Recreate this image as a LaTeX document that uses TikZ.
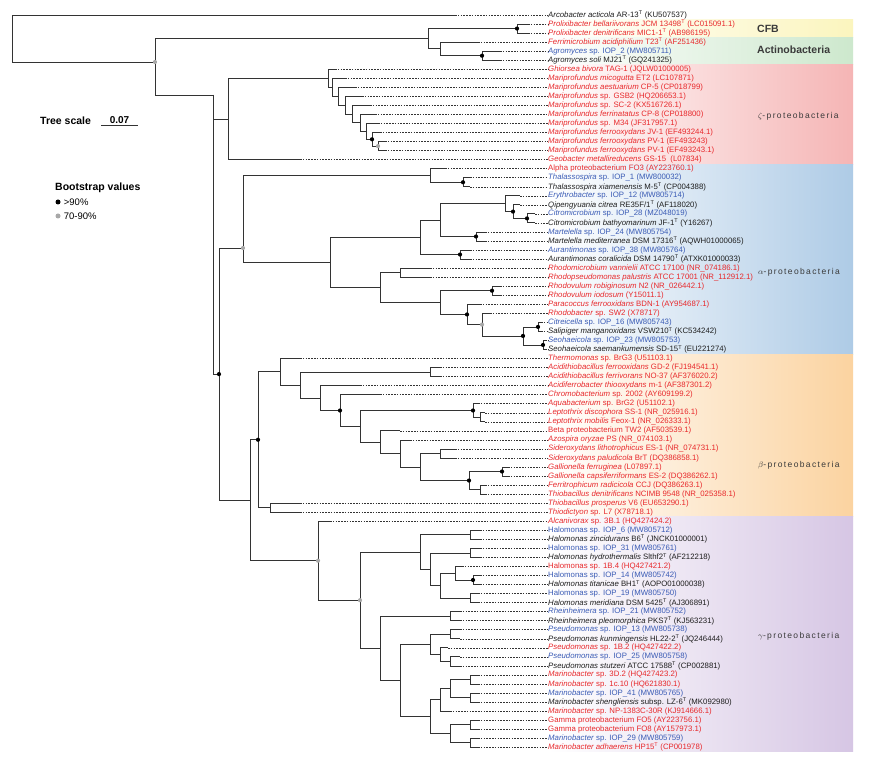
\documentclass[tikz,border=0pt]{standalone}
\usepackage{fontspec}
\setmainfont{Liberation Sans}
\usetikzlibrary{calc}
\definecolor{TaxRed}{HTML}{E8282B}
\definecolor{TaxBlue}{HTML}{3A5BB5}
\definecolor{TaxBlack}{HTML}{1E1E1E}
\definecolor{TreeGray}{HTML}{333333}
\definecolor{BootGray}{HTML}{A8A8A8}
\definecolor{GroupText}{HTML}{3A3A3A}
\definecolor{BandCFB}{HTML}{FBF5BE}
\definecolor{BandActino}{HTML}{CDE8CD}
\definecolor{BandZeta}{HTML}{F5B5B5}
\definecolor{BandAlpha}{HTML}{AECBE6}
\definecolor{BandBeta}{HTML}{FBD3A0}
\definecolor{BandGamma}{HTML}{D6C6E4}
\newcommand{\TS}{\textsuperscript{T}}
% leaf: index, y, tip x, colour, text
\newcommand{\taxon}[5]{%
  \coordinate (T#1) at (#3,#2);
  \node[taxlabel, text=#4] (L#1) at (548,#2) {#5};
  \draw[taxdash] (T#1) -- (L#1.west);}
% internal node: name, x, first child, last child
\newcommand{\joinclade}[4]{%
  \coordinate (#1) at ($(#3)!.5!(#4)$);
  \coordinate (#1) at (#2,0 |- #1);
  \draw[branch] (#1) |- (#3);
  \draw[branch] (#1) |- (#4);}
% internal node placed at a given height: name, x, y, first child, last child
\newcommand{\joincladeat}[5]{%
  \coordinate (#1) at (#2,#3);
  \draw[branch] (#1) |- (#4);
  \draw[branch] (#1) |- (#5);}

\begin{document}
\begin{tikzpicture}[x=1pt,y=-1pt,
  branch/.style={draw=TreeGray, line width=0.8pt},
  taxdash/.style={draw=TreeGray, dash pattern=on 1.6pt off 1.2pt, line width=0.5pt},
  taxlabel/.style={anchor=west, inner sep=0pt, font=\fontsize{7.8}{9}\selectfont},
  bsHigh/.style={circle, fill=black, inner sep=0pt, minimum size=4.2pt},
  bsMid/.style={circle, fill=BootGray, inner sep=0pt, minimum size=4.2pt},
  groupname/.style={anchor=west, inner sep=0pt, text=GroupText, font=\fontsize{10.5}{12}\selectfont\bfseries},
  proteoname/.style={anchor=west, inner sep=0pt, text=GroupText, font=\fontsize{8.5}{10}\selectfont\addfontfeature{LetterSpace=16}},
  legendtext/.style={anchor=west, inner sep=0pt, font=\fontsize{9.5}{11}\selectfont}]
\useasboundingbox (0,0) rectangle (870,759);
\fill[white] (0,0) rectangle (870,759);

% taxon bands
\fill[left color=white, right color=BandCFB] (548,19.5) rectangle (853,37.6);
\fill[left color=white, right color=BandActino] (548,37.6) rectangle (853,64.7);
\fill[left color=white, right color=BandZeta] (548,64.7) rectangle (853,164.2);
\fill[left color=white, right color=BandAlpha] (548,164.2) rectangle (853,354);
\fill[left color=white, right color=BandBeta] (548,354) rectangle (853,516.7);
\fill[left color=white, right color=BandGamma] (548,516.7) rectangle (853,751.8);

\node[groupname] (CfbName) at (757,29) {CFB};
\node[groupname] (ActName) at (757,50) {Actinobacteria};
\node[proteoname] (ZetaName) at (758,116) {$\zeta$-proteobacteria};
\node[proteoname] (AlphaName) at (758,272) {$\alpha$-proteobacteria};
\node[proteoname] (BetaName) at (758,465) {$\beta$-proteobacteria};
\node[proteoname] (GammaName) at (758,636) {$\gamma$-proteobacteria};

% leaves
\taxon{1}{15.0}{455}{TaxBlack}{\textit{Arcobacter acticola} AR-13\TS{} (KU507537)}
\taxon{2}{24.0}{528}{TaxRed}{\textit{Prolixibacter bellariivorans} JCM 13498\TS{} (LC015091.1)}
\taxon{3}{33.1}{528}{TaxRed}{\textit{Prolixibacter denitrificans} MIC1-1\TS{} (AB986195)}
\taxon{4}{42.1}{478}{TaxRed}{\textit{Ferrimicrobium acidiphilium} T23\TS{} (AF251436)}
\taxon{5}{51.2}{500}{TaxBlue}{\textit{Agromyces} sp. IOP\_2 (MW805711)}
\taxon{6}{60.2}{500}{TaxBlack}{\textit{Agromyces soli} MJ21\TS{} (GQ241325)}
\taxon{7}{69.2}{335}{TaxRed}{\textit{Ghiorsea bivora} TAG-1 (JQLW01000005)}
\taxon{8}{78.3}{345}{TaxRed}{\textit{Mariprofundus micogutta} ET2 (LC107871)}
\taxon{9}{87.3}{355}{TaxRed}{\textit{Mariprofundus aestuarium} CP-5 (CP018799)}
\taxon{10}{96.4}{362}{TaxRed}{\textit{Mariprofundus} sp. GSB2 (HQ206653.1)}
\taxon{11}{105.4}{370}{TaxRed}{\textit{Mariprofundus} sp. SC-2 (KX516726.1)}
\taxon{12}{114.4}{375}{TaxRed}{\textit{Mariprofundus ferrinatatus} CP-8 (CP018800)}
\taxon{13}{123.5}{378}{TaxRed}{\textit{Mariprofundus} sp. M34 (JF317957.1)}
\taxon{14}{132.5}{380}{TaxRed}{\textit{Mariprofundus ferrooxydans} JV-1 (EF493244.1)}
\taxon{15}{141.6}{385}{TaxRed}{\textit{Mariprofundus ferrooxydans} PV-1 (EF493243)}
\taxon{16}{150.6}{385}{TaxRed}{\textit{Mariprofundus ferrooxydans} PV-1 (EF493243.1)}
\taxon{17}{159.6}{300}{TaxRed}{\textit{Geobacter metallireducens} GS-15\ \ (L07834)}
\taxon{18}{168.7}{445}{TaxRed}{Alpha proteobacterium FO3 (AY223760.1)}
\taxon{19}{177.7}{470}{TaxBlue}{\textit{Thalassospira} sp. IOP\_1 (MW800032)}
\taxon{20}{186.8}{470}{TaxBlack}{\textit{Thalassospira xiamenensis} M-5\TS{} (CP004388)}
\taxon{21}{195.8}{520}{TaxBlue}{\textit{Erythrobacter} sp. IOP\_12 (MW805714)}
\taxon{22}{204.8}{520}{TaxBlack}{\textit{Qipengyuania citrea} RE35F/1\TS{} (AF118020)}
\taxon{23}{213.9}{535}{TaxBlue}{\textit{Citromicrobium} sp. IOP\_28 (MZ048019)}
\taxon{24}{222.9}{535}{TaxBlack}{\textit{Citromicrobium bathyomarinum} JF-1\TS{} (Y16267)}
\taxon{25}{232.0}{485}{TaxBlue}{\textit{Martelella} sp. IOP\_24 (MW805754)}
\taxon{26}{241.0}{485}{TaxBlack}{\textit{Martelella mediterranea} DSM 17316\TS{} (AQWH01000065)}
\taxon{27}{250.0}{470}{TaxBlue}{\textit{Aurantimonas} sp. IOP\_38 (MW805764)}
\taxon{28}{259.1}{470}{TaxBlack}{\textit{Aurantimonas coralicida} DSM 14790\TS{} (ATXK01000033)}
\taxon{29}{268.1}{430}{TaxRed}{\textit{Rhodomicrobium vannielii} ATCC 17100 (NR\_074186.1)}
\taxon{30}{277.2}{430}{TaxRed}{\textit{Rhodopseudomonas palustris} ATCC 17001 (NR\_112912.1)}
\taxon{31}{286.2}{500}{TaxRed}{\textit{Rhodovulum robiginosum} N2 (NR\_026442.1)}
\taxon{32}{295.2}{500}{TaxRed}{\textit{Rhodovulum iodosum} (Y15011.1)}
\taxon{33}{304.3}{480}{TaxRed}{\textit{Paracoccus ferrooxidans} BDN-1 (AY954687.1)}
\taxon{34}{313.3}{490}{TaxRed}{\textit{Rhodobacter} sp. SW2 (X78717)}
\taxon{35}{322.4}{541}{TaxBlue}{\textit{Citreicella} sp. IOP\_16 (MW805743)}
\taxon{36}{331.4}{541}{TaxBlack}{\textit{Salipiger manganoxidans} VSW210\TS{} (KC534242)}
\taxon{37}{340.4}{545}{TaxBlue}{\textit{Seohaeicola} sp. IOP\_23 (MW805753)}
\taxon{38}{349.5}{545}{TaxBlack}{\textit{Seohaeicola saemankumensis} SD-15\TS{} (EU221274)}
\taxon{39}{358.5}{300}{TaxRed}{\textit{Thermomonas} sp. BrG3 (U51103.1)}
\taxon{40}{367.6}{440}{TaxRed}{\textit{Acidithiobacillus ferrooxidans} GD-2 (FJ194541.1)}
\taxon{41}{376.6}{440}{TaxRed}{\textit{Acidithiobacillus ferrivorans} NO-37 (AF376020.2)}
\taxon{42}{385.6}{360}{TaxRed}{\textit{Acidiferrobacter thiooxydans} m-1 (AF387301.2)}
\taxon{43}{394.7}{380}{TaxRed}{\textit{Chromobacterium} sp. 2002 (AY609199.2)}
\taxon{44}{403.7}{478}{TaxRed}{\textit{Aquabacterium} sp. BrG2 (U51102.1)}
\taxon{45}{412.8}{485}{TaxRed}{\textit{Leptothrix discophora} SS-1 (NR\_025916.1)}
\taxon{46}{421.8}{485}{TaxRed}{\textit{Leptothrix mobilis} Feox-1 (NR\_026333.1)}
\taxon{47}{430.8}{400}{TaxRed}{Beta proteobacterium TW2 (AF503539.1)}
\taxon{48}{439.9}{410}{TaxRed}{\textit{Azospira oryzae} PS (NR\_074103.1)}
\taxon{49}{448.9}{455}{TaxRed}{\textit{Sideroxydans lithotrophicus} ES-1 (NR\_074731.1)}
\taxon{50}{458.0}{455}{TaxRed}{\textit{Sideroxydans paludicola} BrT (DQ386858.1)}
\taxon{51}{467.0}{508}{TaxRed}{\textit{Gallionella ferruginea} (L07897.1)}
\taxon{52}{476.0}{508}{TaxRed}{\textit{Gallionella capsiferriformans} ES-2 (DQ386262.1)}
\taxon{53}{485.1}{485}{TaxRed}{\textit{Ferritrophicum radicicola} CCJ (DQ386263.1)}
\taxon{54}{494.1}{485}{TaxRed}{\textit{Thiobacillus denitrificans} NCIMB 9548 (NR\_025358.1)}
\taxon{55}{503.2}{300}{TaxRed}{\textit{Thiobacillus prosperus} V6 (EU653290.1)}
\taxon{56}{512.2}{300}{TaxRed}{\textit{Thiodictyon} sp. L7 (X78718.1)}
\taxon{57}{521.2}{330}{TaxRed}{\textit{Alcanivorax} sp. 3B.1 (HQ427424.2)}
\taxon{58}{530.3}{480}{TaxBlue}{Halomonas sp. IOP\_6 (MW805712)}
\taxon{59}{539.3}{480}{TaxBlack}{\textit{Halomonas zincidurans} B6\TS{} (JNCK01000001)}
\taxon{60}{548.4}{480}{TaxBlue}{Halomonas sp. IOP\_31 (MW805761)}
\taxon{61}{557.4}{480}{TaxBlack}{\textit{Halomonas hydrothermalis} Slthf2\TS{} (AF212218)}
\taxon{62}{566.4}{462}{TaxRed}{Halomonas sp. 1B.4 (HQ427421.2)}
\taxon{63}{575.5}{480}{TaxBlue}{Halomonas sp. IOP\_14 (MW805742)}
\taxon{64}{584.5}{480}{TaxBlack}{\textit{Halomonas titanicae} BH1\TS{} (AOPO01000038)}
\taxon{65}{593.6}{478}{TaxBlue}{Halomonas sp. IOP\_19 (MW805750)}
\taxon{66}{602.6}{478}{TaxBlack}{\textit{Halomonas meridiana} DSM 5425\TS{} (AJ306891)}
\taxon{67}{611.6}{460}{TaxBlue}{\textit{Rheinheimera} sp. IOP\_21 (MW805752)}
\taxon{68}{620.7}{460}{TaxBlack}{\textit{Rheinheimera pleomorphica} PKS7\TS{} (KJ563231)}
\taxon{69}{629.7}{460}{TaxBlue}{\textit{Pseudomonas} sp. IOP\_13 (MW805738)}
\taxon{70}{638.8}{460}{TaxBlack}{\textit{Pseudomonas kunmingensis} HL22-2\TS{} (JQ246444)}
\taxon{71}{647.8}{448}{TaxRed}{\textit{Pseudomonas} sp. 1B.2 (HQ427422.2)}
\taxon{72}{656.8}{460}{TaxBlue}{\textit{Pseudomonas} sp. IOP\_25 (MW805758)}
\taxon{73}{665.9}{460}{TaxBlack}{\textit{Pseudomonas stutzeri} ATCC 17588\TS{} (CP002881)}
\taxon{74}{674.9}{478}{TaxRed}{\textit{Marinobacter} sp. 3D.2 (HQ427423.2)}
\taxon{75}{684.0}{478}{TaxRed}{\textit{Marinobacter} sp. 1c.10 (HQ621830.1)}
\taxon{76}{693.0}{478}{TaxBlue}{\textit{Marinobacter} sp. IOP\_41 (MW805765)}
\taxon{77}{702.0}{478}{TaxBlack}{\textit{Marinobacter shengliensis} subsp. LZ-6\TS{} (MK092980)}
\taxon{78}{711.1}{450}{TaxRed}{\textit{Marinobacter} sp. NP-1383C-30R (KJ914666.1)}
\taxon{79}{720.1}{478}{TaxRed}{Gamma proteobacterium FO5 (AY223756.1)}
\taxon{80}{729.2}{478}{TaxRed}{Gamma proteobacterium FO8 (AY157973.1)}
\taxon{81}{738.2}{478}{TaxBlue}{\textit{Marinobacter} sp. IOP\_29 (MW805759)}
\taxon{82}{747.2}{478}{TaxRed}{\textit{Marinobacter adhaerens} HP15\TS{} (CP001978)}

% outgroups
\joinclade{CFB}{517}{T2}{T3}
\joinclade{Agro}{482}{T5}{T6}
\joinclade{Actino}{440}{T4}{Agro}
\joinclade{CfbAct}{428}{CFB}{Actino}
% zeta
\joinclade{Mp8}{378}{T15}{T16}
\joinclade{Mp7}{372}{T14}{Mp8}
\joinclade{Mp6}{366}{T13}{Mp7}
\joinclade{Mp5}{360}{T12}{Mp6}
\joinclade{Mp4}{352}{T11}{Mp5}
\joinclade{Mp3}{345}{T10}{Mp4}
\joinclade{Mp2}{338}{T9}{Mp3}
\joinclade{Mp1}{332}{T8}{Mp2}
\joinclade{Zeta}{328}{T7}{Mp1}
\joinclade{ZetaGeo}{228}{Zeta}{T17}
% alpha
\joinclade{Thal}{463}{T19}{T20}
\joinclade{AlphaFO}{430}{T18}{Thal}
\joinclade{Citro}{527}{T23}{T24}
\joinclade{Qipe}{513}{T22}{Citro}
\joinclade{Eryth}{505}{T21}{Qipe}
\joinclade{Mart}{476}{T25}{T26}
\joinclade{Aur}{460}{T27}{T28}
\joinclade{EryMart}{440}{Eryth}{Mart}
\joinclade{EryAur}{420}{EryMart}{Aur}
\joinclade{Rhpal}{400}{T29}{T30}
\joinclade{Rhvul}{492}{T31}{T32}
\joinclade{Citre}{538}{T35}{T36}
\joinclade{Seoh}{543}{T37}{T38}
\joinclade{Roseo}{523}{Citre}{Seoh}
\joinclade{Rbac}{482}{T34}{Roseo}
\joinclade{Para}{467}{T33}{Rbac}
\joinclade{RhvPara}{440}{Rhvul}{Para}
\joinclade{Rhizo}{380}{Rhpal}{RhvPara}
\joinclade{AlphaCore}{330}{EryAur}{Rhizo}
\joincladeat{Alpha}{243}{248}{AlphaFO}{AlphaCore}
% beta
\joinclade{Acid}{430}{T40}{T41}
\joinclade{Lept}{480}{T45}{T46}
\joinclade{AquaL}{473}{T44}{Lept}
\joinclade{Sider}{440}{T49}{T50}
\joinclade{Gall}{502}{T51}{T52}
\joinclade{Ferri}{480}{T53}{T54}
\joinclade{GallF}{469}{Gall}{Ferri}
\joinclade{SidG}{420}{Sider}{GallF}
\joinclade{Azo}{400}{T48}{SidG}
\joinclade{TWtwo}{380}{T47}{Azo}
\joinclade{Betap}{360}{AquaL}{TWtwo}
\joinclade{Chrom}{340}{T43}{Betap}
\joinclade{Acfb}{320}{T42}{Chrom}
\joinclade{AcidB}{300}{Acid}{Acfb}
\joinclade{Therm}{280}{T39}{AcidB}
\joinclade{ThioD}{270}{T55}{T56}
\joinclade{Beta}{258}{Therm}{ThioD}
% gamma
\joinclade{HalA}{470}{T58}{T59}
\joinclade{HalB}{470}{T60}{T61}
\joinclade{HalC}{473}{T63}{T64}
\joinclade{HalD}{470}{T65}{T66}
\joinclade{HalE}{455}{T62}{HalC}
\joinclade{HalF}{440}{HalE}{HalD}
\joinclade{HalG}{430}{HalB}{HalF}
\joinclade{Halo}{420}{HalA}{HalG}
\joinclade{Rhein}{450}{T67}{T68}
\joinclade{PsA}{450}{T69}{T70}
\joinclade{PsB}{450}{T72}{T73}
\joinclade{PsC}{440}{T71}{PsB}
\joinclade{Pseudo}{430}{PsA}{PsC}
\joinclade{MaA}{470}{T74}{T75}
\joinclade{MaB}{470}{T76}{T77}
\joinclade{MaC}{450}{MaA}{MaB}
\joinclade{MaD}{440}{MaC}{T78}
\joinclade{GamFO}{470}{T79}{T80}
\joinclade{MaE}{470}{T81}{T82}
\joinclade{MaF}{450}{GamFO}{MaE}
\joinclade{Marino}{430}{MaD}{MaF}
\joinclade{PsMa}{400}{Pseudo}{Marino}
\joinclade{RhPsMa}{380}{Rhein}{PsMa}
\joinclade{HaloRest}{360}{Halo}{RhPsMa}
\joinclade{Gamma}{318}{T57}{HaloRest}
% backbone
\joinclade{BetaGamma}{250}{Beta}{Gamma}
\joinclade{AlphaBG}{219}{Alpha}{BetaGamma}
\joincladeat{Proteo}{213}{95}{ZetaGeo}{AlphaBG}
\joincladeat{Ingroup}{155}{62}{CfbAct}{Proteo}
\joinclade{Root}{12}{T1}{Ingroup}

% bootstrap support
\node[bsHigh] (BsCFB) at (CFB) {};
\node[bsHigh] (BsAgro) at (Agro) {};
\node[bsHigh] (BsMp7) at (Mp7) {};
\node[bsMid] (BsMp8) at (Mp8) {};
\node[bsHigh] (BsThal) at (Thal) {};
\node[bsHigh] (BsQipe) at (Qipe) {};
\node[bsHigh] (BsCitro) at (Citro) {};
\node[bsHigh] (BsMart) at (Mart) {};
\node[bsHigh] (BsAur) at (Aur) {};
\node[bsHigh] (BsRhvul) at (Rhvul) {};
\node[bsHigh] (BsPara) at (Para) {};
\node[bsMid] (BsRbac) at (Rbac) {};
\node[bsHigh] (BsRoseo) at (Roseo) {};
\node[bsHigh] (BsCitre) at (Citre) {};
\node[bsHigh] (BsSeoh) at (Seoh) {};
\node[bsHigh] (BsAquaL) at (AquaL) {};
\node[bsHigh] (BsGall) at (Gall) {};
\node[bsHigh] (BsGallF) at (GallF) {};
\node[bsHigh] (BsHalC) at (HalC) {};
\node[bsHigh] (BsBeta) at (Beta) {};
\node[bsHigh] (BsChrom) at (Chrom) {};
\node[bsHigh] (BsAlphaBG) at (AlphaBG) {};
\node[bsMid] (BsGamma) at (Gamma) {};
\node[bsMid] (BsHaloRest) at (HaloRest) {};
\node[bsMid] (BsIngroup) at (Ingroup) {};
\node[bsMid] (BsAlpha) at (Alpha) {};

% tree scale
\node[legendtext, font=\fontsize{10.5}{12}\selectfont\bfseries] (ScaleName) at (40,121) {Tree scale};
\coordinate (ScaleA) at (101,125);
\coordinate (ScaleB) at (138,125);
\draw[branch] (ScaleA) -- (ScaleB);
\node[legendtext, anchor=south, font=\fontsize{10}{12}\selectfont\bfseries] (ScaleVal) at ($(ScaleA)!.5!(ScaleB)+(0,-1.5)$) {0.07};

% bootstrap legend
\node[legendtext, font=\fontsize{10.5}{12}\selectfont\bfseries] (BootName) at (55,188) {Bootstrap values};
\node[bsHigh, minimum size=5pt] (BootHigh) at (58,202) {};
\node[legendtext, right=3pt] (BootHighTxt) at (BootHigh.east) {>90\%};
\node[bsMid, minimum size=5pt] (BootMid) at (58,216) {};
\node[legendtext, right=3pt] (BootMidTxt) at (BootMid.east) {70-90\%};
\end{tikzpicture}
\end{document}
